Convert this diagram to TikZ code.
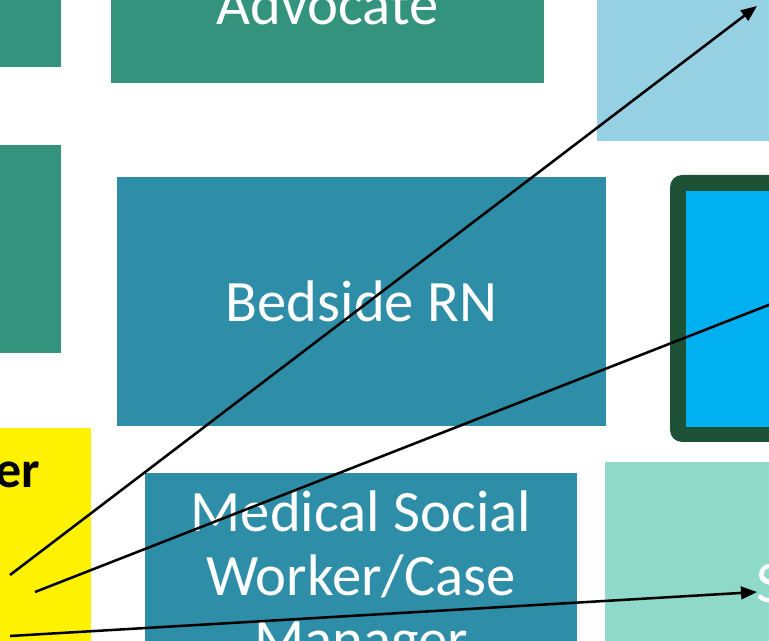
\documentclass[tikz,border=0pt]{standalone}
\usepackage{fontspec}
\setmainfont{Carlito}
\usetikzlibrary{fit,arrows.meta}
\definecolor{teamgreen}{RGB}{51,147,125}
\definecolor{nurseblue}{RGB}{46,141,167}
\definecolor{skyblue}{RGB}{150,209,227}
\definecolor{darkframe}{RGB}{30,82,55}
\definecolor{cyanfill}{RGB}{0,176,240}
\definecolor{mintfill}{RGB}{143,217,200}
\begin{document}
\begin{tikzpicture}[x=0.75pt,y=-0.75pt,
  tile/.style={inner sep=0pt, outer sep=0pt, draw=none},
  lbl/.style={text=white, font=\fontsize{44}{48}\selectfont, align=center},
  link/.style={line width=1.9pt, -{Triangle[length=12pt,width=9.5pt]}},
  plain link/.style={line width=1.9pt}]
\useasboundingbox (0,0) rectangle (769,641);
\clip (0,0) rectangle (769,641);
% role tiles
\node[tile, fill=teamgreen, fit={(-60,-60) (61,67)}] (g1) {};
\node[tile, fill=teamgreen, fit={(-60,145) (61,353)}] (g2) {};
\node[tile, fill=teamgreen, fit={(111,-60) (544,83)}] (adv) {};
\node[lbl, anchor=base] (advtext) at (327.5,25) {Advocate};
\node[tile, fill=skyblue, fit={(597,-60) (830,141)}] (sky) {};
\node[tile, fill=nurseblue, fit={(117,177) (606,426)}] (rn) {};
\node[lbl] (rntext) at (rn.center) {Bedside RN};
\node[tile, fill=darkframe, rounded corners=9pt, fit={(670,175) (900,442)}] (frame) {};
\node[tile, fill=cyanfill, fit={(686,191) (900,427)}] (core) {};
\node[tile, fill=yellow, fit={(-60,428) (91,700)}] (ylw) {};
\node[anchor=base east, inner sep=0pt, font=\bfseries\fontsize{39}{44}\selectfont] (ertext) at (40,488) {er};
\node[tile, fill=nurseblue, fit={(145,473) (577,760)}] (msw) {};
% the base anchor of a multi-line node sits on its last line
\node[lbl, anchor=base] (mswtext) at (361,660) {Medical Social\\Worker/Case\\Manager};
\node[tile, fill=mintfill, fit={(605,462) (900,760)}] (mint) {};
\node[lbl, anchor=base west, inner sep=0pt] (stext) at (756,603) {S};
% connectors
\coordinate (s1) at (10,575);
\coordinate (t1) at (757,6);
\coordinate (s2) at (35,592);
\coordinate (t2) at (830,281);
\coordinate (s3) at (10,636);
\coordinate (t3) at (757,592);
\draw[link] (s1) -- (t1);
\draw[plain link] (s2) -- (t2);
\draw[link] (s3) -- (t3);
\end{tikzpicture}
\end{document}
